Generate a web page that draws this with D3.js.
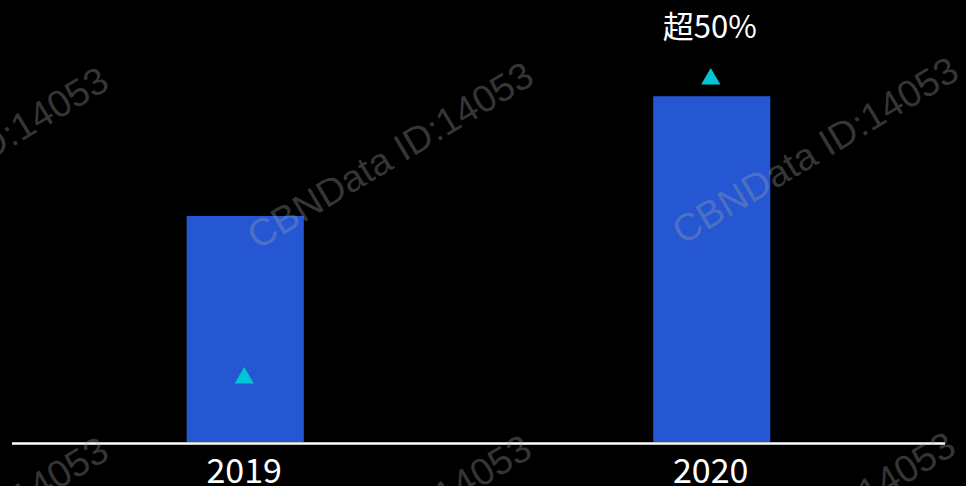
<!DOCTYPE html>
<html>
<head>
<meta charset="utf-8">
<script src="https://cdn.jsdelivr.net/npm/d3@7"></script>
<style>
    html, body { margin: 0; padding: 0; background: #000; }
    svg { display: block; }
</style>
</head>
<body>
<div id="chart"></div>
<script>
const WIDTH = 966;
const HEIGHT = 486;
const BASELINE = 442;

// data (2019 = 100)
const years = ["2019", "2020"];
const barValues = [100, 153];
const markerValues = [28.3, 160.6];
const barLabels = ["", "超50%"];
const watermark = "CBNData ID:14053";

const svg = d3
    .select("#chart")
    .append("svg")
    .attr("width", WIDTH)
    .attr("height", HEIGHT);

svg.append("rect")
    .attr("width", WIDTH)
    .attr("height", HEIGHT)
    .attr("fill", "#000");

const x = d3.scaleBand()
    .domain(years)
    .range([12, 945])
    .paddingInner(0.749)
    .paddingOuter(0.3745);

const y = d3.scaleLinear()
    .domain([0, 100])
    .range([BASELINE, 216]);

// bars
svg.append("g")
    .selectAll(".bar")
    .data(years)
    .join("rect")
    .attr("class", "bar")
    .attr("x", (d) => x(d))
    .attr("width", x.bandwidth())
    .attr("y", (d, i) => y(barValues[i]))
    .attr("height", (d, i) => BASELINE - y(barValues[i]))
    .attr("fill", "#2457d1");

// baseline
svg.append("line")
    .attr("x1", x.range()[0])
    .attr("x2", x.range()[1])
    .attr("y1", BASELINE + 1.5)
    .attr("y2", BASELINE + 1.5)
    .attr("stroke", "#fff")
    .attr("stroke-width", 2.5);

// year labels
svg.append("g")
    .selectAll(".year")
    .data(years)
    .join("text")
    .attr("class", "year")
    .attr("x", (d) => x(d) + x.bandwidth() / 2 - 1)
    .attr("y", 483)
    .attr("text-anchor", "middle")
    .attr("fill", "#fff")
    .style("font-family", "'Noto Sans CJK SC', 'Noto Sans', sans-serif")
    .style("font-size", "34px")
    .text((d) => d);

// triangle markers
const tri = d3.symbol().type(d3.symbolTriangle).size(160);
svg.append("g")
    .selectAll(".marker")
    .data(years)
    .join("path")
    .attr("class", "marker")
    .attr("d", tri)
    .attr("transform", (d, i) => `translate(${x(d) + x.bandwidth() / 2 - 1},${y(markerValues[i])})`)
    .attr("fill", "#00c5d7");

// value labels
svg.append("g")
    .selectAll(".label")
    .data(years)
    .join("text")
    .attr("class", "label")
    .attr("x", (d) => x(d) + x.bandwidth() / 2 - 2)
    .attr("y", (d, i) => y(markerValues[i]) - 41)
    .attr("text-anchor", "middle")
    .attr("fill", "#fff")
    .style("font-family", "'Noto Sans CJK SC', sans-serif")
    .style("font-size", "31px")
    .text((d, i) => barLabels[i]);

// watermarks
const wmCenters = [[-35, 160], [390, 155], [815, 150], [-35, 530], [388, 528], [812, 525]];
svg.append("g")
    .selectAll(".wm")
    .data(wmCenters)
    .join("text")
    .attr("class", "wm")
    .attr("transform", (d) => `translate(${d[0]},${d[1]}) rotate(-31)`)
    .attr("text-anchor", "middle")
    .attr("dy", "0.35em")
    .attr("fill", "rgba(170,170,170,0.32)")
    .style("font-family", "'Liberation Sans', Arial, sans-serif")
    .style("font-size", "38px")
    .text(watermark);
</script>
</body>
</html>
